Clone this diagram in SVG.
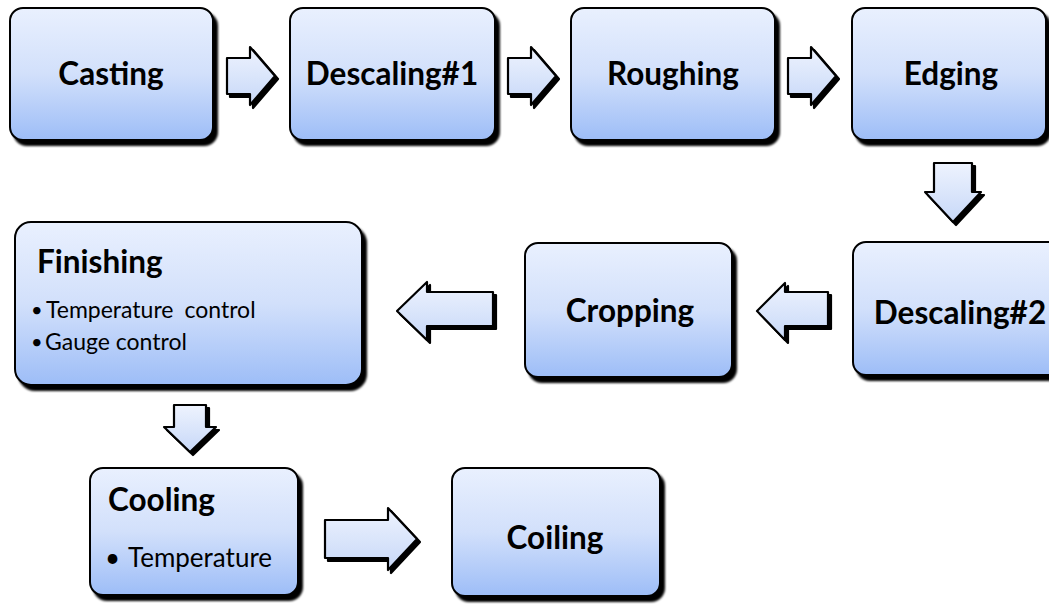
<svg xmlns="http://www.w3.org/2000/svg" width="1049" height="605" viewBox="0 0 1049 605">
  <defs>
    <linearGradient id="boxFill" x1="0" y1="0" x2="0" y2="1">
      <stop offset="0" stop-color="#e9f0fe"/>
      <stop offset="0.5" stop-color="#d2e0fb"/>
      <stop offset="1" stop-color="#9dbdf7"/>
    </linearGradient>
    <linearGradient id="arrowFill" x1="0" y1="0" x2="0" y2="1">
      <stop offset="0" stop-color="#eef3fe"/>
      <stop offset="1" stop-color="#c7d8f8"/>
    </linearGradient>
    <filter id="boxShadow" x="-5%" y="-5%" width="115%" height="120%">
      <feOffset in="SourceAlpha" dx="4" dy="5" result="off"/>
      <feGaussianBlur in="off" stdDeviation="0.8" result="blur"/>
      <feMerge>
        <feMergeNode in="blur"/>
        <feMergeNode in="SourceGraphic"/>
      </feMerge>
    </filter>
    <filter id="arrowShadow" x="-10%" y="-10%" width="130%" height="130%">
      <feOffset in="SourceAlpha" dx="3" dy="3" result="off"/>
      <feGaussianBlur in="off" stdDeviation="0.7" result="blur"/>
      <feMerge>
        <feMergeNode in="blur"/>
        <feMergeNode in="SourceGraphic"/>
      </feMerge>
    </filter>
  </defs>
  <style>
    .box { fill: url(#boxFill); stroke: #000; stroke-width: 2; filter: url(#boxShadow); }
    .arrow { fill: url(#arrowFill); stroke: #000; stroke-width: 2.2; stroke-linejoin: round; filter: url(#arrowShadow); }
    .title { font-family: Lato, "Open Sans", sans-serif; font-weight: 700; font-size: 31.5px; fill: #000; }
    .item { font-family: Lato, "Open Sans", sans-serif; font-weight: 400; font-size: 23px; fill: #000; }
    .bul { font-family: Lato, "Open Sans", sans-serif; font-weight: 400; font-size: 20px; fill: #000; }
    .itemL { font-family: Lato, "Open Sans", sans-serif; font-weight: 400; font-size: 26px; fill: #000; }
    .c { text-anchor: middle; }
  </style>

  <rect width="1049" height="605" fill="#ffffff"/>

  <!-- flow arrows -->
  <g id="connectors">
    <path class="arrow" d="M227,58 H250 V47 L275,76 L250,105 V94 H227 Z"/>
    <path class="arrow" d="M508,58 H531 V47 L556,76 L531,105 V94 H508 Z"/>
    <path class="arrow" d="M788,58 H811 V47 L836,76 L811,105 V94 H788 Z"/>
    <path class="arrow" d="M934,163 H972 V192 H981 L953,222 L925,192 H934 Z"/>
    <path class="arrow" d="M828,292 V326 H785 V340 L757,311 L785,283 V292 Z"/>
    <path class="arrow" d="M493,292 V326 H427 V340 L397,311 L427,282 V292 Z"/>
    <path class="arrow" d="M174,405 H206 V427 H216 L190,452 L164,427 H174 Z"/>
    <path class="arrow" d="M325,520 H388 V508 L417,539 L388,570 V558 H325 Z"/>
  </g>

  <g id="casting">
    <rect class="box" x="10" y="8" width="203" height="132" rx="13"/>
    <text class="title c" x="111" y="85">Casting</text>
  </g>
  <g id="descaling1">
    <rect class="box" x="290" y="8" width="205" height="132" rx="13"/>
    <text class="title c" x="392" y="85">Descaling#1</text>
  </g>
  <g id="roughing">
    <rect class="box" x="571" y="8" width="204" height="132" rx="13"/>
    <text class="title c" x="673" y="85">Roughing</text>
  </g>
  <g id="edging">
    <rect class="box" x="852" y="8" width="194" height="132" rx="13"/>
    <text class="title c" x="951" y="85">Edging</text>
  </g>
  <g id="descaling2">
    <rect class="box" x="853" y="242" width="215" height="133" rx="13"/>
    <text class="title c" x="960" y="324">Descaling#2</text>
  </g>
  <g id="cropping">
    <rect class="box" x="525" y="243" width="207" height="134" rx="13"/>
    <text class="title c" x="630" y="322">Cropping</text>
  </g>
  <g id="finishing">
    <rect class="box" x="15" y="222" width="347" height="163" rx="16"/>
    <text class="title" x="37" y="273">Finishing</text>
    <text class="bul" x="31" y="317">•</text>
    <text class="item" x="46" y="318">Temperature<tspan dx="11">control</tspan></text>
    <text class="bul" x="31" y="349">•</text>
    <text class="item" x="45" y="350">Gauge control</text>
  </g>
  <g id="cooling">
    <rect class="box" x="90" y="468" width="208" height="127" rx="13"/>
    <text class="title" x="108" y="511">Cooling</text>
    <text class="itemL" x="105" y="567">•</text>
    <text class="itemL" x="128" y="567">Temperature</text>
  </g>
  <g id="coiling">
    <rect class="box" x="452" y="468" width="208" height="128" rx="13"/>
    <text class="title c" x="555" y="549">Coiling</text>
  </g>
</svg>
